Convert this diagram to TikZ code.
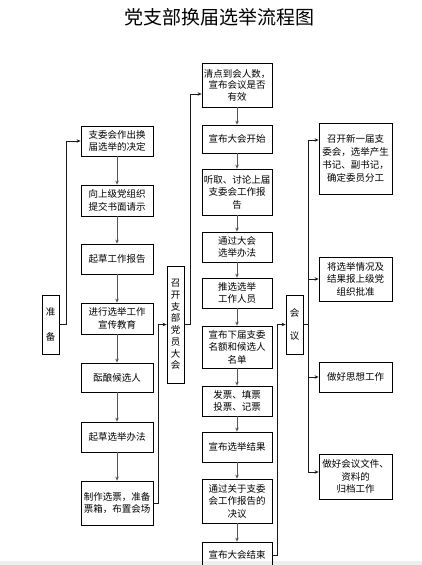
\documentclass[tikz,border=0pt]{standalone}
\usepackage{fontspec}
\setmainfont{Noto Sans CJK SC}
\usetikzlibrary{arrows.meta, positioning, calc}
\definecolor{cline}{HTML}{1A1A1A}
\definecolor{carrow}{HTML}{555555}
\definecolor{cstrip}{HTML}{EEEEEE}

\begin{document}
\begin{tikzpicture}[x=1pt, y=-1pt,
    box/.style={draw=black, line width=0.8pt, align=center, inner sep=1pt,
      font=\fontsize{9.5}{12.5}\selectfont},
    vbox/.style={box, minimum width=17pt},
    step arrow/.style={draw=carrow, line width=0.9pt, -{Stealth[length=4pt, width=3.5pt]}},
    link/.style={draw=cline, line width=0.7pt},
    link arrow/.style={link, -{Stealth[length=4pt, width=3.5pt]}}]
  % page
  \clip (0,0) rectangle (422,565);
  \fill[white] (0,0) rectangle (422,565);
  \fill[cstrip] (0,561) rectangle (422,565);

  % Title
  \node[font=\fontsize{19}{22}\selectfont] (title) at (219.5,17) {党支部换届选举流程图};

  % Left column: preparation
  \node[vbox, minimum height=59pt, font=\fontsize{9.5}{25}\selectfont] (prep) at (50.5,324.5) {准\\备};
  \node[box, minimum width=72pt, minimum height=30pt] (decide) at (117,141) {支委会作出换\\届选举的决定};
  \node[box, minimum width=72pt, minimum height=31pt] (request) at (117,200.5) {向上级党组织\\提交书面请示};
  \node[box, minimum width=72pt, minimum height=30pt] (draft) at (117,259) {起草工作报告};
  \node[box, minimum width=72pt, minimum height=31pt] (publicize) at (117,318.5) {进行选举工作\\宣传教育};
  \node[box, minimum width=72pt, minimum height=29pt] (nominate) at (117,377.5) {酝酿候选人};
  \node[box, minimum width=72pt, minimum height=30pt] (method) at (117,437) {起草选举办法};
  \node[box, minimum width=72pt, minimum height=44pt] (ballot) at (117,503) {制作选票，准备\\票箱，布置会场};

  % Middle column: party member meeting
  \node[vbox, minimum height=117pt, font=\fontsize{9.5}{11.7}\selectfont] (meeting) at (175.5,324.5) {召\\开\\支\\部\\党\\员\\大\\会};
  \node[box, minimum width=70pt, minimum height=44pt, font=\fontsize{9.5}{11.5}\selectfont] (count) at (237,85) {清点到会人数，\\宣布会议是否\\有效};
  \node[box, minimum width=70pt, minimum height=28pt] (open) at (237,139) {宣布大会开始};
  \node[box, minimum width=70pt, minimum height=46pt] (report) at (237,192) {听取、讨论上届\\支委会工作报\\告};
  \node[box, minimum width=70pt, minimum height=30pt] (passrule) at (237,247) {通过大会\\选举办法};
  \node[box, minimum width=70pt, minimum height=30pt] (staff) at (237,293) {推选选举\\工作人员};
  \node[box, minimum width=70pt, minimum height=42pt] (namelist) at (237,347) {宣布下届支委\\名额和候选人\\名单};
  \node[box, minimum width=70pt, minimum height=30pt] (vote) at (237,401) {发票、填票\\投票、记票};
  \node[box, minimum width=70pt, minimum height=30pt] (result) at (237,447) {宣布选举结果};
  \node[box, minimum width=70pt, minimum height=44pt] (resolve) at (237,501) {通过关于支委\\会工作报告的\\决议};
  \node[box, minimum width=70pt, minimum height=26pt] (close) at (237,555) {宣布大会结束};

  % Right column: after the meeting
  \node[vbox, minimum height=59pt, font=\fontsize{9.5}{23}\selectfont] (session) at (294.5,324.5) {会\\议};
  \node[box, minimum width=73pt, minimum height=71pt, font=\fontsize{9.5}{13}\selectfont] (newcomm) at (355.5,158.5) {召开新一届支\\委会，选举产生\\书记、副书记，\\确定委员分工};
  \node[box, minimum width=73pt, minimum height=44pt] (approve) at (355.5,279) {将选举情况及\\结果报上级党\\组织批准};
  \node[box, minimum width=73pt, minimum height=30pt] (thought) at (355.5,377) {做好思想工作};
  \node[box, minimum width=73pt, minimum height=45pt] (archive) at (355.5,476.5) {做好会议文件、\\资料的\\归档工作};

  % steps
  \foreach \a/\b in {decide/request, request/draft, draft/publicize, publicize/nominate,
      nominate/method, method/ballot, count/open, open/report, report/passrule,
      passrule/staff, staff/namelist, namelist/vote, vote/result, result/resolve,
      resolve/close}{
    \draw[step arrow] (\a) -- (\b);
  }

  % links between the stages
  \draw[link arrow] (prep.east) -- ++(7,0) |- (decide.west);
  \draw[link arrow] (ballot.east) -- ++(5,0) |- (meeting.west);
  \draw[link arrow] (meeting.east) -- ++(6,0) |- ([yshift=-9pt]count.west);
  \draw[link arrow] (close.east) -- ++(5,0) |- (session.west);

  % fan out to the right column
  \coordinate (bus) at (308,0);
  \draw[link] (session.east) -- (bus |- session.east);
  \draw[link] (bus |- 0,140) -- (bus |- 0,472);
  \draw[link arrow] (bus |- 0,140) -- (newcomm.west |- 0,140);
  \draw[link arrow] (bus |- approve.west) -- (approve.west);
  \draw[link arrow] (bus |- thought.west) -- (thought.west);
  \draw[link arrow] (bus |- 0,472) -- (archive.west |- 0,472);
\end{tikzpicture}
\end{document}
